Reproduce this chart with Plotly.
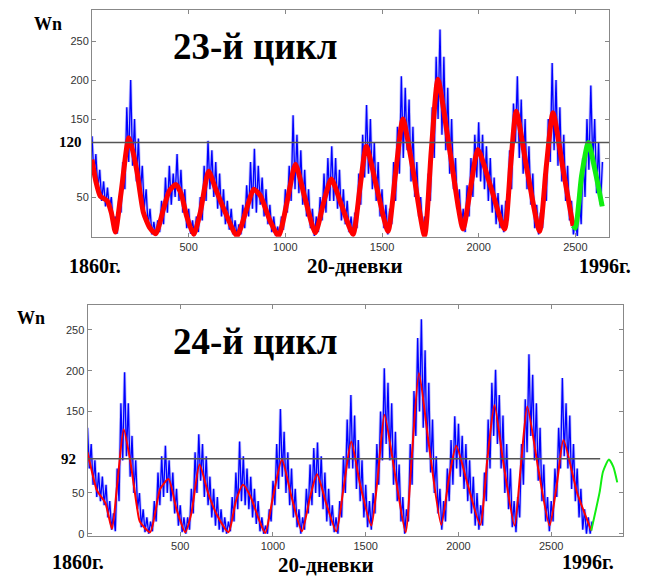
import plotly.graph_objects as go

W, H = 646, 578

# ---------------- data (20-day index, Wolf number) ----------------
# Top panel (23rd cycle forecast)
red_top_x = [0, 20, 43, 79, 100, 121, 150, 190, 210, 233, 266, 300, 330, 370, 400, 433, 460, 490, 526,
             560, 603, 640, 690, 750, 800, 836, 870, 920, 965, 1010, 1052, 1100, 1155, 1200, 1238, 1290,
             1350, 1385, 1419, 1470, 1531, 1570, 1608, 1660, 1720, 1755, 1789, 1850, 1919, 1960, 1996,
             2060, 2134, 2165, 2194, 2250, 2315, 2350, 2384, 2440, 2488]
red_top_y = [98, 70, 51, 45, 30, 5, 55, 126, 110, 82, 30, 10, 3, 35, 58, 66, 55, 25, 2,
             30, 83, 60, 30, 0, 35, 60, 52, 20, 0, 45, 92, 50, 4, 45, 73, 40,
             2, 60, 115, 65, 6, 80, 150, 85, 0, 110, 201, 110, 9, 65, 111,
             65, 9, 90, 160, 85, 6, 90, 158, 80, 13]
green_top_x = [2488, 2500, 2532, 2567, 2601, 2639]
green_top_y = [13, 10, 77, 120, 85, 38]
blue_top = [128, 75, 105, 60, 85, 45, 70, 38, 62, 35,
            50, 15, 25, 3, 45, 30, 95, 60, 165, 95,
            200, 90, 150, 70, 125, 55, 90, 35, 60, 12,
            35, 2, 18, 0, 20, 5, 45, 15, 75, 30,
            90, 40, 80, 50, 105, 45, 85, 30, 60, 10,
            35, 3, 20, 0, 25, 5, 50, 20, 90, 45,
            122, 60, 110, 50, 95, 35, 80, 25, 60, 15,
            45, 8, 35, 2, 20, 0, 15, 2, 40, 10,
            65, 25, 95, 35, 112, 30, 90, 40, 75, 25,
            60, 15, 40, 5, 25, 0, 12, 0, 25, 8,
            60, 30, 90, 45, 155, 60, 130, 55, 110, 40,
            85, 25, 60, 10, 35, 0, 25, 5, 50, 20,
            80, 30, 100, 45, 115, 45, 100, 35, 85, 20,
            60, 15, 45, 5, 25, 0, 30, 10, 80, 40,
            130, 75, 168, 80, 150, 60, 120, 45, 95, 25,
            60, 10, 40, 2, 35, 15, 95, 45, 140, 80,
            205, 100, 190, 110, 175, 70, 140, 50, 95, 25,
            50, 5, 25, 10, 80, 45, 165, 100, 230, 150,
            265, 130, 230, 110, 190, 80, 150, 60, 100, 35,
            60, 10, 35, 5, 65, 25, 100, 50, 130, 75,
            146, 70, 130, 60, 115, 45, 100, 30, 75, 15,
            55, 10, 40, 5, 45, 20, 110, 60, 170, 120,
            205, 100, 175, 80, 150, 60, 115, 40, 80, 10,
            40, 2, 30, 10, 80, 45, 150, 95, 222, 110,
            200, 90, 165, 70, 130, 45, 90, 20, 45, 2,
            20, 0, 55, 15, 100, 50, 150, 85, 193, 95,
            150, 55, 120, 40, 95]
threshold_top = 120

# Bottom panel (24th cycle forecast)
red_bot_x = [0, 20, 51, 96, 132, 160, 195, 230, 266, 282, 338, 392, 437, 480, 527, 560, 604, 650, 700,
             760, 800, 838, 880, 920, 958, 1000, 1048, 1100, 1156, 1200, 1237, 1290, 1341, 1380, 1422,
             1470, 1530, 1565, 1601, 1660, 1715, 1750, 1787, 1840, 1907, 1950, 1988, 2050, 2117, 2155,
             2194, 2240, 2302, 2335, 2371, 2430, 2491, 2530, 2566, 2640, 2716]
red_bot_y = [100, 80, 53, 38, 6, 60, 128, 90, 34, 15, 2, 55, 67, 30, 2, 25, 85, 50, 22,
             2, 40, 60, 45, 20, 1, 45, 91, 45, 3, 45, 73, 35, 3, 55, 113,
             60, 10, 70, 146, 70, 2, 100, 197, 110, 11, 70, 108, 60, 11, 90,
             158, 90, 10, 80, 156, 80, 10, 60, 115, 50, 4]
green_bot_x = [2716, 2761, 2779, 2811, 2835, 2856]
green_bot_y = [4, 51, 76, 91, 82, 63]
blue_bot = [130, 80, 110, 60, 90, 45, 75, 40, 70, 35,
            60, 20, 40, 5, 25, 3, 80, 40, 160, 90,
            198, 95, 160, 70, 120, 50, 90, 30, 50, 8,
            30, 2, 20, 0, 15, 3, 40, 15, 75, 35,
            95, 45, 108, 50, 90, 40, 75, 25, 55, 10,
            35, 2, 20, 0, 20, 5, 55, 25, 100, 50,
            122, 65, 110, 45, 95, 35, 70, 20, 55, 10,
            45, 5, 30, 2, 20, 0, 15, 3, 45, 15,
            75, 30, 113, 40, 95, 35, 80, 30, 70, 20,
            55, 12, 40, 3, 20, 0, 10, 0, 30, 15,
            65, 35, 110, 55, 153, 70, 125, 50, 100, 35,
            80, 20, 55, 8, 30, 0, 20, 5, 55, 25,
            85, 35, 105, 50, 112, 45, 95, 30, 75, 15,
            55, 10, 35, 2, 20, 0, 40, 20, 95, 50,
            140, 80, 170, 80, 145, 55, 115, 40, 90, 20,
            60, 8, 40, 5, 50, 25, 110, 60, 150, 90,
            203, 110, 185, 90, 160, 60, 125, 40, 85, 15,
            45, 0, 30, 15, 110, 60, 175, 120, 240, 150,
            263, 130, 225, 100, 185, 75, 140, 50, 95, 25,
            55, 5, 40, 15, 80, 40, 115, 60, 144, 80,
            135, 70, 120, 55, 110, 40, 90, 25, 70, 10,
            50, 5, 35, 10, 75, 40, 140, 80, 185, 120,
            201, 110, 170, 80, 145, 50, 110, 30, 80, 8,
            40, 2, 45, 20, 110, 60, 165, 100, 220, 120,
            195, 90, 160, 65, 130, 40, 85, 15, 45, 3,
            40, 15, 80, 45, 130, 80, 191, 95, 160, 80,
            145, 55, 110, 40, 80, 20, 55, 5, 30, 0,
            20, 0, 15]
threshold_bot = 92
threshold_bot_end = 2764

x_ticks = [500, 1000, 1500, 2000, 2500]
y_ticks_top = [50, 150, 200, 250]
y_ticks_bot = [0, 50, 150, 200, 250]
y_right_top = [50, 100, 150, 200, 250]
y_right_bot = [0, 50, 100, 150, 200, 250]

step = 10
blue_top_x = [i * step for i in range(len(blue_top))]
blue_bot_x = [i * step for i in range(len(blue_bot))]

x_range_top = [0, 2674]
x_range_bot = [0, 2887]

# ---------------- figure ----------------
def px(x):
    return x / W

def py(y):
    return 1 - y / H

fig = go.Figure()

BLUE = "#0000ff"
HALO = "rgba(80,80,255,0.35)"
RED = "#ff0000"
GREEN = "#11ee11"
HL = "#555555"

# top
fig.add_trace(go.Scatter(x=blue_top_x, y=blue_top, mode="lines", line=dict(color=HALO, width=3),
                         xaxis="x", yaxis="y", showlegend=False))
fig.add_trace(go.Scatter(x=blue_top_x, y=blue_top, mode="lines", line=dict(color=BLUE, width=1.3),
                         xaxis="x", yaxis="y", showlegend=False))
fig.add_trace(go.Scatter(x=red_top_x, y=red_top_y, mode="lines", line=dict(color=RED, width=5, shape="spline", smoothing=0.6),
                         xaxis="x", yaxis="y", showlegend=False))
fig.add_trace(go.Scatter(x=green_top_x, y=green_top_y, mode="lines", line=dict(color=GREEN, width=5, shape="spline", smoothing=0.6),
                         xaxis="x", yaxis="y", showlegend=False))
fig.add_trace(go.Scatter(x=x_range_top, y=[threshold_top, threshold_top], mode="lines", line=dict(color=HL, width=1.5),
                         xaxis="x", yaxis="y", showlegend=False))
# bottom
fig.add_trace(go.Scatter(x=blue_bot_x, y=blue_bot, mode="lines", line=dict(color=HALO, width=3),
                         xaxis="x2", yaxis="y2", showlegend=False))
fig.add_trace(go.Scatter(x=blue_bot_x, y=blue_bot, mode="lines", line=dict(color=BLUE, width=1.3),
                         xaxis="x2", yaxis="y2", showlegend=False))
fig.add_trace(go.Scatter(x=red_bot_x, y=red_bot_y, mode="lines", line=dict(color=RED, width=2, shape="spline", smoothing=0.6),
                         xaxis="x2", yaxis="y2", showlegend=False))
fig.add_trace(go.Scatter(x=green_bot_x, y=green_bot_y, mode="lines", line=dict(color=GREEN, width=2, shape="spline", smoothing=0.6),
                         xaxis="x2", yaxis="y2", showlegend=False))
fig.add_trace(go.Scatter(x=[0, threshold_bot_end], y=[threshold_bot, threshold_bot], mode="lines", line=dict(color=HL, width=1.5),
                         xaxis="x2", yaxis="y2", showlegend=False))

tickfont = dict(family="Liberation Sans, Arial, sans-serif", size=11, color="#333333")
axcommon = dict(showgrid=False, zeroline=False, showline=True, linecolor="#888888", linewidth=1,
                ticks="inside", ticklen=4, tickcolor="#888888", tickfont=tickfont)

fig.update_layout(
    width=W, height=H, margin=dict(l=0, r=0, t=0, b=0),
    paper_bgcolor="white", plot_bgcolor="white",
    xaxis=dict(domain=[px(92), px(609)], anchor="y", range=x_range_top, tickvals=x_ticks, mirror="ticks", **axcommon),
    yaxis=dict(domain=[py(238), py(10)], anchor="x", range=[-1, 290], tickvals=y_ticks_top, mirror=True, **axcommon),
    yaxis3=dict(overlaying="y", side="right", anchor="x", range=[-1, 290], tickvals=y_right_top,
                showticklabels=False, showgrid=False, zeroline=False, ticks="inside", ticklen=4, tickcolor="#888888"),
    xaxis2=dict(domain=[px(87.5), px(623)], anchor="y2", range=x_range_bot, tickvals=x_ticks, mirror="ticks", **axcommon),
    yaxis2=dict(domain=[py(539), py(307)], anchor="x2", range=[-3, 280], tickvals=y_ticks_bot, mirror=True, **axcommon),
    yaxis4=dict(overlaying="y2", side="right", anchor="x2", range=[-3, 280], tickvals=y_right_bot,
                showticklabels=False, showgrid=False, zeroline=False, ticks="inside", ticklen=4, tickcolor="#888888"),
)
# dummy traces so the right-side tick axes render
fig.add_trace(go.Scatter(x=[None], y=[None], xaxis="x", yaxis="y3", showlegend=False))
fig.add_trace(go.Scatter(x=[None], y=[None], xaxis="x2", yaxis="y4", showlegend=False))

SERIF = "Liberation Serif, Times New Roman, serif"

def label(text, x, y, size, xanchor="center"):
    fig.add_annotation(text=f"<b>{text}</b>", x=px(x), y=py(y), xref="paper", yref="paper",
                       xanchor=xanchor, yanchor="middle", showarrow=False,
                       font=dict(family=SERIF, size=size, color="black"))

# top texts
label("Wn", 48, 24, 18)
label("23-й цикл", 255, 47, 37)
label("1860г.", 95, 267, 20)
label("20-дневки", 355, 267, 21)
label("1996г.", 605, 267, 20)
fig.add_annotation(text="<b>120</b>", x=px(84), y=threshold_top, xref="paper", yref="y", xanchor="right",
                   yanchor="middle", showarrow=False, font=dict(family=SERIF, size=15, color="black"))
# bottom texts
label("Wn", 31, 320, 18)
label("24-й цикл", 255, 343, 37)
label("1860г.", 78, 565, 20)
label("20-дневки", 326, 568, 21)
label("1996г.", 588, 565, 20)
fig.add_annotation(text="<b>92</b>", x=px(78), y=threshold_bot, xref="paper", yref="y2", xanchor="right",
                   yanchor="middle", showarrow=False, font=dict(family=SERIF, size=15, color="black"))

fig.write_html("out.html", config={"displayModeBar": False},
               post_script="document.body.style.margin='0px';")
